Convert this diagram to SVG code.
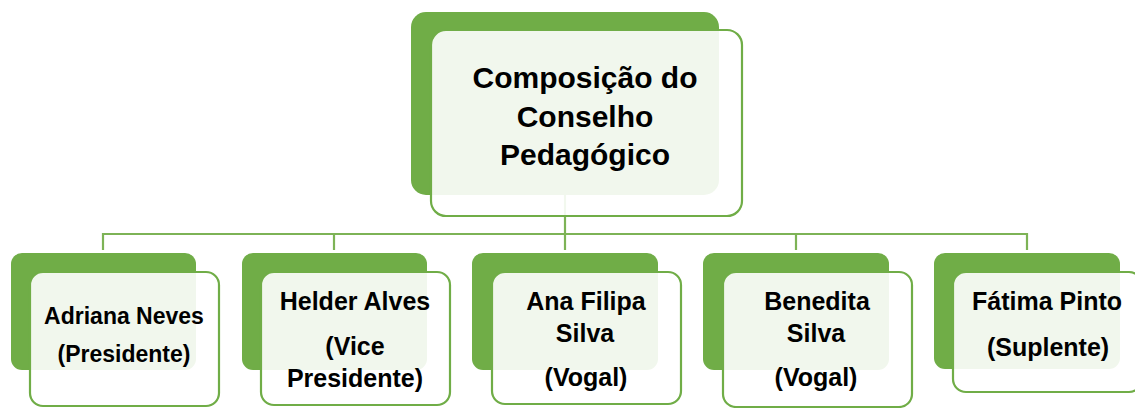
<svg xmlns="http://www.w3.org/2000/svg" width="1135" height="408" viewBox="0 0 1135 408">
<style>
.back{fill:#70AD47}
.front{fill:#FFFFFF;fill-opacity:0.9;stroke:#70AD47;stroke-width:2.2}
.conn{fill:none;stroke:#7DB356;stroke-width:2.2}
text{font-family:"Liberation Sans",Arial,sans-serif;font-weight:bold;fill:#000;text-anchor:middle}
.t{font-size:30px}
.b{font-size:25px}
.b1{font-size:23px}
</style>
<rect width="1135" height="408" fill="#FFFFFF"/>
<g id="connectors">
<path class="conn" d="M565 195 V234 M103 250 V234 H1027 V250 M334 234 V250 M565 234 V250 M796 234 V250"/>
</g>
<g id="top">
<rect class="back" x="411" y="12" width="308" height="183" rx="15"/>
<rect class="front" x="431" y="30" width="311" height="186" rx="15"/>
<text class="t" x="585" y="88">Composição do</text>
<text class="t" x="585" y="127">Conselho</text>
<text class="t" x="585" y="165">Pedagógico</text>
</g>
<g id="n1">
<rect class="back" x="11" y="253" width="185" height="117" rx="11"/>
<rect class="front" x="30" y="272" width="189" height="134" rx="13"/>
<text class="b1" x="124" y="324">Adriana Neves</text>
<text class="b1" x="124" y="362">(Presidente)</text>
</g>
<g id="n2">
<rect class="back" x="242" y="253" width="185" height="117" rx="11"/>
<rect class="front" x="261" y="272" width="189" height="133" rx="13"/>
<text class="b" x="355" y="310">Helder Alves</text>
<text class="b" x="355" y="355">(Vice</text>
<text class="b" x="355" y="387">Presidente)</text>
</g>
<g id="n3">
<rect class="back" x="472" y="253" width="186" height="117" rx="11"/>
<rect class="front" x="492" y="272" width="189" height="132" rx="13"/>
<text class="b" x="586" y="310">Ana Filipa</text>
<text class="b" x="585" y="342">Silva</text>
<text class="b" x="586" y="386">(Vogal)</text>
</g>
<g id="n4">
<rect class="back" x="703" y="253" width="186" height="117" rx="11"/>
<rect class="front" x="723" y="272" width="189" height="135" rx="13"/>
<text class="b" x="817" y="310">Benedita</text>
<text class="b" x="816" y="342">Silva</text>
<text class="b" x="816" y="386">(Vogal)</text>
</g>
<g id="n5">
<rect class="back" x="934" y="253" width="186" height="116" rx="11"/>
<rect class="front" x="953" y="272" width="189" height="120" rx="13"/>
<text class="b" x="1047" y="310">Fátima Pinto</text>
<text class="b" x="1048" y="356">(Suplente)</text>
</g>
</svg>
